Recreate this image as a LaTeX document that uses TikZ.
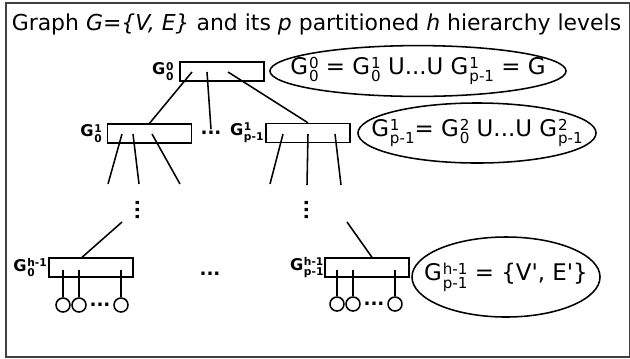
\documentclass[tikz,border=0pt]{standalone}
\usepackage{fontspec}
\setmainfont{DejaVu Sans}
\usepackage{tikz}
\usetikzlibrary{shapes.geometric, positioning, calc}

% G with stacked super- and subscript
\newcommand{\Gix}[2]{G\kern.04em{\fontsize{.66em}{.7em}\selectfont
  \setbox0\hbox{#1}\setbox2\hbox{#2}%
  \ifdim\wd0>\wd2 \dimen0=\wd0 \else\dimen0=\wd2 \fi
  \rlap{\raise.75ex\box0}\rlap{\lower.9ex\box2}\kern\dimen0}}

\begin{document}
\begin{tikzpicture}[x=0.025cm, y=-0.025cm, line width=1.1pt,
          gbox/.style={rectangle, draw, minimum width=2.1cm,
                       minimum height=0.47cm, inner sep=0pt},
          gell/.style={ellipse, draw, inner sep=0pt},
          leaf/.style={circle, draw, minimum size=0.35cm, inner sep=0pt},
          glab/.style={inner sep=0pt, font=\fontsize{11.5}{13}\selectfont\bfseries},
          etext/.style={font=\fontsize{16.3}{19}\selectfont},
          dotsty/.style={inner sep=1pt, font=\fontsize{13}{15}\selectfont\bfseries}
        ]
        \useasboundingbox (0,0) rectangle (630,358);
        \draw[black!75, line width=0.8pt] (6,3) rectangle (629.5,357);

        \node[anchor=base west, font=\fontsize{15.6}{18}\selectfont, inner sep=0pt]
              (title) at (11,30)
              {Graph \textit{G=\{V, E\}} and its \textit{p} partitioned
               \textit{h} hierarchy levels};

        % Level 0
        \node[gbox] (top) at (222,71.5) {};
        \node[glab, left=3.5pt of top] (top-l) {\Gix{0}{0}};
        \node[gell, etext, minimum width=7.4cm, minimum height=1.27cm]
              (e0) at (418,71) {\makebox[0pt]{\Gix{0}{0} = \Gix{1}{0} U...U \Gix{1}{p-1} = G}};

        % Level 1
        \node[gbox] (l1a) at (149.5,133.5) {};
        \node[glab, left=3pt of l1a] (l1a-l) {\Gix{1}{0}};
        \node[gbox] (l1b) at (308,133) {};
        \node[glab, left=0.7pt of l1b] (l1b-l) {\Gix{1}{p-1}};
        \node[dotsty] (hd1) at (211,133) {...};
        \node[gell, etext, minimum width=5.95cm, minimum height=1.5cm]
              (e1) at (477,133) {\makebox[0pt]{\Gix{1}{p-1}= \Gix{2}{0} U...U \Gix{2}{p-1}}};

        \draw ($(top.center)+(-30,0.5)$) -- (l1a.north);
        \draw ($(top.center)+(-15,0.5)$) -- (hd1.north);
        \draw ($(top.center)+(6,0.5)$) -- (l1b.north);

        % Open ends below level 1
        \coordinate (a1) at (108,184);
        \coordinate (a2) at (139,184);
        \coordinate (a3) at (180,184);
        \coordinate (b1) at (270,184);
        \coordinate (b2) at (307,185);
        \coordinate (b3) at (341,185);
        \foreach \e/\dx in {a1/-27.5, a2/-16.5, a3/2.5}
          \draw ($(l1a.center)+(\dx,0.5)$) -- (\e);
        \foreach \e/\dx in {b1/-25, b2/0, b3/27}
          \draw ($(l1b.center)+(\dx,1)$) -- (\e);

        \node[dotsty, rotate=90] (vd1) at (138,210) {...};
        \node[dotsty, rotate=90] (vd2) at (307,210) {...};

        % Level h-1
        \node[gbox] (lha) at (91,267.5) {};
        \node[glab, left=0.5pt of lha] (lha-l) {\Gix{h-1}{0}};
        \node[gbox] (lhb) at (367,267.5) {};
        \node[glab, left=0pt of lhb] (lhb-l) {\Gix{h-1}{p-1}};
        \node[dotsty] (hd2) at (210,274) {...};
        \node[gell, etext, minimum width=4.7cm, minimum height=2cm]
              (e2) at (506,277) {\makebox[0pt]{\Gix{h-1}{p-1} = \{V\textquotesingle, E\textquotesingle\}}};

        \coordinate (c1) at (122,222);
        \coordinate (d1) at (347,222);
        \draw (c1) -- ($(lha.north)+(-9,0)$);
        \draw (d1) -- ($(lhb.north)+(5,0)$);

        % Leaves
        \node[leaf] (la1) at (63,305) {};
        \node[leaf] (la2) at (79,305) {};
        \node[leaf] (la3) at (121,305) {};
        \node[dotsty] (ld1) at (100,305) {...};
        \node[leaf] (lb1) at (337,304) {};
        \node[leaf] (lb2) at (353,304) {};
        \node[leaf] (lb3) at (395,304) {};
        \node[dotsty] (ld2) at (374,304) {...};
        \foreach \n/\dx in {la1/-28, la2/-12, la3/30}
          \draw ($(lha.center)+(\dx,2)$) -- (\n);
        \foreach \n/\dx in {lb1/-30, lb2/-14, lb3/28}
          \draw ($(lhb.center)+(\dx,2)$) -- (\n);
      \end{tikzpicture}
\end{document}
